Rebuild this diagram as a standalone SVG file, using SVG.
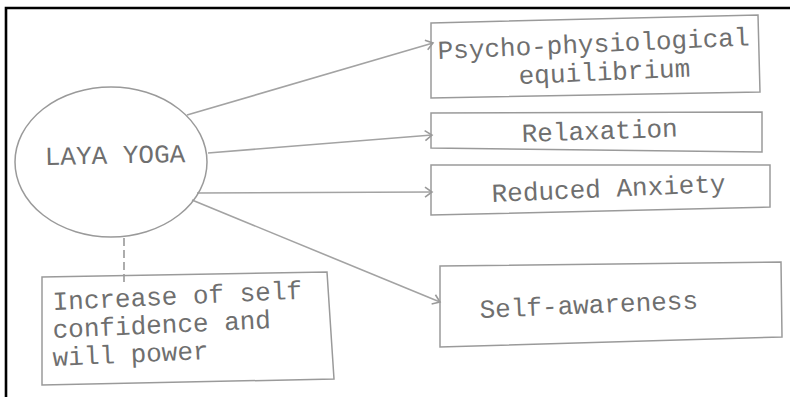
<svg xmlns="http://www.w3.org/2000/svg" width="790" height="397" viewBox="0 0 790 397">
<defs>
<style>
.frame{stroke:#000;stroke-width:2.6;fill:none}
.box{fill:none;stroke:#9a9a9a;stroke-width:1.5}
.edge{fill:none;stroke:#a3a3a3;stroke-width:1.6}
.dash{fill:none;stroke:#8a8a8a;stroke-width:1.4;stroke-dasharray:8 4}
.t{font-family:"Liberation Mono","Courier New",monospace;font-size:26px;fill:#6f6f6f}
</style>
<marker id="arr" markerWidth="14" markerHeight="14" refX="10" refY="6" orient="auto" markerUnits="userSpaceOnUse">
<path d="M3,1 L10,6 L3,11" fill="none" stroke="#9a9a9a" stroke-width="1.6"/>
</marker>
</defs>
<rect width="790" height="397" fill="#fff"/>
<path class="frame" d="M6,397 V8 H790"/>
<g id="connectors">
<path class="edge" d="M187,115 L433,43" marker-end="url(#arr)"/>
<path class="edge" d="M208,153 L432,135" marker-end="url(#arr)"/>
<path class="edge" d="M197,193 L432,192" marker-end="url(#arr)"/>
<path class="edge" d="M192,200 L440,302" marker-end="url(#arr)"/>
<path class="dash" d="M124,238 V283"/>
</g>
<g id="laya-yoga">
<ellipse class="box" cx="111" cy="162" rx="96" ry="75"/>
<text class="t" x="45" y="165" transform="rotate(-1.2 45 165)">LAYA YOGA</text>
</g>
<g id="psycho">
<polygon class="box" points="431,23 758,15 760,92 431,98"/>
<text class="t" x="438" y="59" transform="rotate(-2.5 438 59)">Psycho-physiological</text>
<text class="t" x="519" y="84" transform="rotate(-2.5 519 84)">equilibrium</text>
</g>
<g id="relaxation">
<polygon class="box" points="431,113 762,112 762,152 431,148"/>
<text class="t" x="522" y="142" transform="rotate(-2 522 142)">Relaxation</text>
</g>
<g id="anxiety">
<polygon class="box" points="431,165 770,165 770,207 431,215"/>
<text class="t" x="492" y="202" transform="rotate(-2.5 492 202)">Reduced Anxiety</text>
</g>
<g id="self-awareness">
<polygon class="box" points="440,266 781,262 782,337 440,347"/>
<text class="t" x="480" y="318" transform="rotate(-2.5 480 318)">Self-awareness</text>
</g>
<g id="confidence">
<polygon class="box" points="42,277 327,272 334,379 42,385"/>
<text class="t" x="53" y="310" transform="rotate(-2.6 53 310)">Increase of self</text>
<text class="t" x="53" y="338" transform="rotate(-2.6 53 338)">confidence and</text>
<text class="t" x="53" y="366" transform="rotate(-2.6 53 366)">will power</text>
</g>
</svg>
